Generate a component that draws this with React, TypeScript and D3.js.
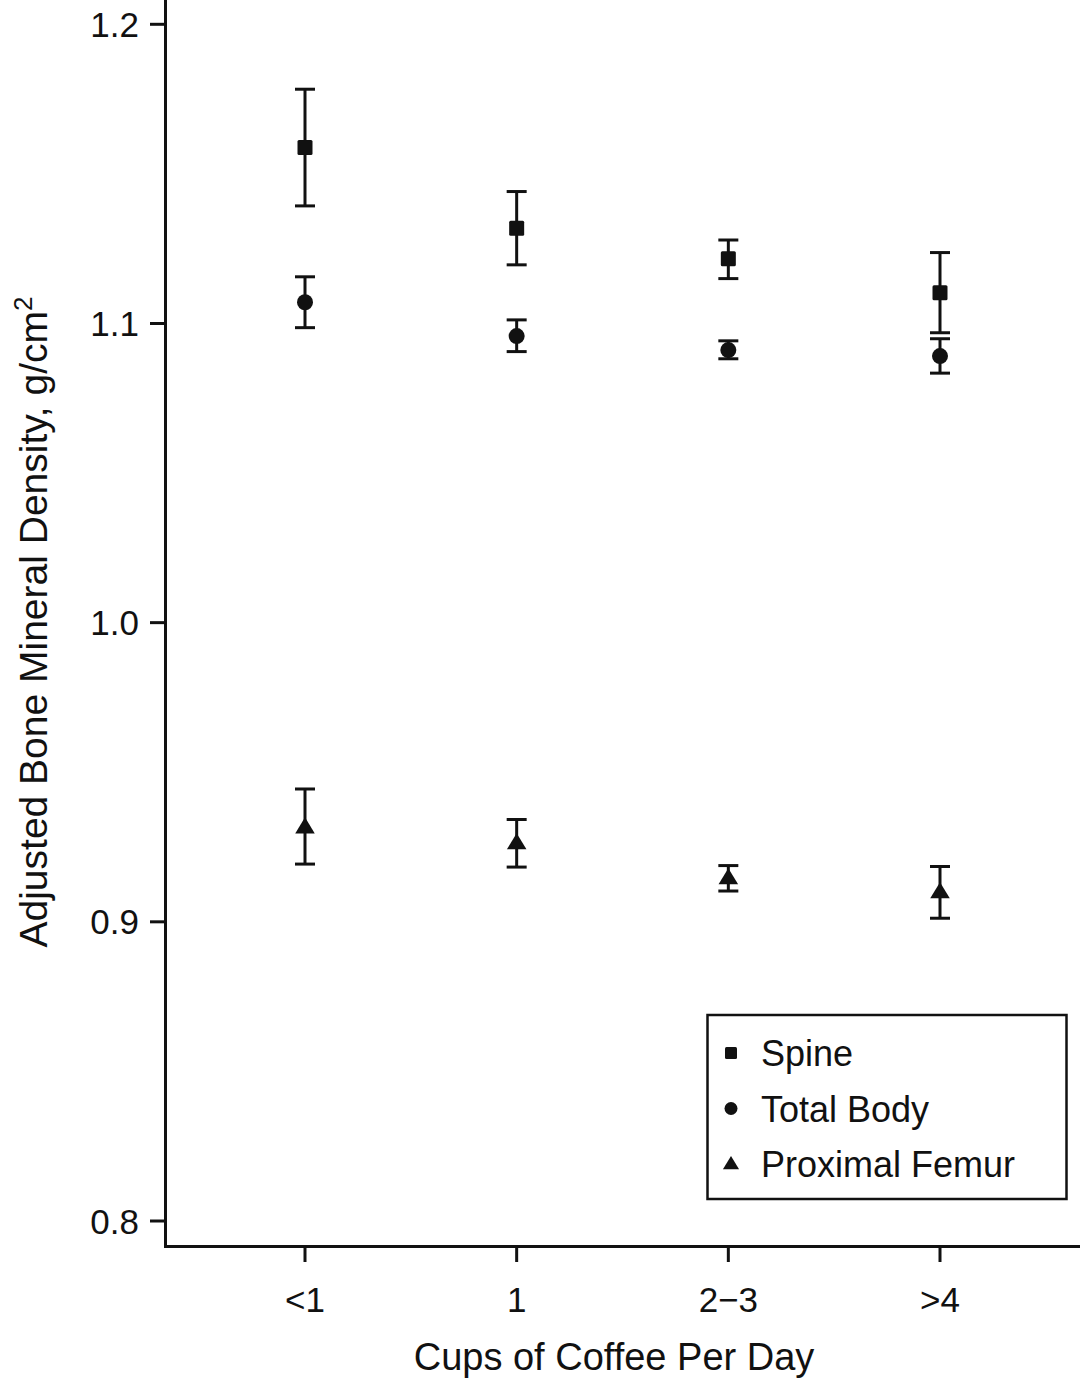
import React from "react";
import * as d3 from "d3";

const categories = ["<1", "1", "2\u22123", ">4"];
const spineMean = [1.1588, 1.1318, 1.1216, 1.1103];
const spineUpper = [1.1783, 1.1441, 1.1279, 1.1237];
const spineLower = [1.1393, 1.1196, 1.115, 1.0969];
const bodyMean = [1.1071, 1.0958, 1.0911, 1.0891];
const bodyUpper = [1.1156, 1.1012, 1.0942, 1.0949];
const bodyLower = [1.0986, 1.0906, 1.0882, 1.0834];
const femurMean = [0.9317, 0.9264, 0.9147, 0.91];
const femurUpper = [0.9444, 0.9342, 0.9188, 0.9185];
const femurLower = [0.9193, 0.9183, 0.9103, 0.9012];
const yTicks = [0.8, 0.9, 1.0, 1.1, 1.2];
const seriesNames = ["Spine", "Total Body", "Proximal Femur"];

const W = 1080;
const H = 1380;
const FONT = "'Liberation Sans', Arial, Helvetica, sans-serif";

type Shape = "square" | "circle" | "triangle";

function Marker({ shape, x, y, s }: { shape: Shape; x: number; y: number; s: number }) {
  if (shape === "square") {
    return <rect x={x - s / 2} y={y - s / 2} width={s} height={s} rx={1.5} fill="#111" />;
  }
  if (shape === "circle") {
    return <circle cx={x} cy={y} r={s / 2} fill="#111" />;
  }
  const h = s * 0.95;
  const w = s * 1.15;
  return (
    <path
      d={`M${x},${y - h * 0.6} L${x + w / 2},${y + h * 0.4} L${x - w / 2},${y + h * 0.4} Z`}
      fill="#111"
    />
  );
}

export default function App() {
  const x = d3.scalePoint<string>().domain(categories).range([305, 940]).padding(0);
  const y = d3.scaleLinear().domain([0.8, 1.2]).range([1221, 24.3]);
  const fmt = d3.format(".1f");

  const axisX = 165.5;
  const axisY = 1246.5;

  const series: { shape: Shape; mean: number[]; up: number[]; lo: number[]; size: number; lsize: number }[] = [
    { shape: "square", mean: spineMean, up: spineUpper, lo: spineLower, size: 15, lsize: 12 },
    { shape: "circle", mean: bodyMean, up: bodyUpper, lo: bodyLower, size: 16, lsize: 13 },
    { shape: "triangle", mean: femurMean, up: femurUpper, lo: femurLower, size: 17, lsize: 14 },
  ];

  const capW = 10;

  return (
    <svg
      width={W}
      height={H}
      viewBox={`0 0 ${W} ${H}`}
      style={{ position: "absolute", left: 0, top: 0, background: "#fff" }}
      fontFamily={FONT}
    >
      <rect x={0} y={0} width={W} height={H} fill="#fff" />
      {/* axes */}
      <line x1={axisX} y1={0} x2={axisX} y2={axisY + 1.5} stroke="#111" strokeWidth={3} />
      <line x1={axisX - 1.5} y1={axisY} x2={W} y2={axisY} stroke="#111" strokeWidth={3} />

      {yTicks.map((t) => (
        <g key={t}>
          <line x1={150} x2={axisX} y1={y(t)} y2={y(t)} stroke="#111" strokeWidth={3} />
          <text x={139} y={y(t)} dy="0.36em" textAnchor="end" fontSize={35} fill="#111">
            {fmt(t)}
          </text>
        </g>
      ))}

      {categories.map((c) => (
        <g key={c}>
          <line x1={x(c)!} x2={x(c)!} y1={axisY} y2={1262} stroke="#111" strokeWidth={3} />
          <text x={x(c)!} y={1312} textAnchor="middle" fontSize={35} fill="#111">
            {c}
          </text>
        </g>
      ))}

      <text x={614} y={1370} textAnchor="middle" fontSize={38} fill="#111">
        Cups of Coffee Per Day
      </text>

      <text
        transform={`translate(47,622) rotate(-90)`}
        textAnchor="middle"
        fontSize={39}
        fill="#111"
      >
        Adjusted Bone Mineral Density, g/cm
        <tspan fontSize={26} dy={-15}>2</tspan>
      </text>

      {/* error bars and markers */}
      {series.map((s, si) => (
        <g key={si}>
          {categories.map((c, i) => {
            const cx = x(c)!;
            return (
              <g key={c}>
                <line x1={cx} x2={cx} y1={y(s.up[i])} y2={y(s.lo[i])} stroke="#111" strokeWidth={3} />
                <line x1={cx - capW} x2={cx + capW} y1={y(s.up[i])} y2={y(s.up[i])} stroke="#111" strokeWidth={3} />
                <line x1={cx - capW} x2={cx + capW} y1={y(s.lo[i])} y2={y(s.lo[i])} stroke="#111" strokeWidth={3} />
                <Marker shape={s.shape} x={cx} y={y(s.mean[i])} s={s.size} />
              </g>
            );
          })}
        </g>
      ))}

      {/* legend */}
      <rect x={707.5} y={1015} width={359} height={184} fill="#fff" stroke="#111" strokeWidth={2.5} />
      {seriesNames.map((n, i) => {
        const base = 1066 + i * 55.5;
        return (
          <g key={n}>
            <Marker shape={series[i].shape} x={731} y={base - 13} s={series[i].lsize} />
            <text x={761} y={base} fontSize={36} fill="#111">
              {n}
            </text>
          </g>
        );
      })}
    </svg>
  );
}
